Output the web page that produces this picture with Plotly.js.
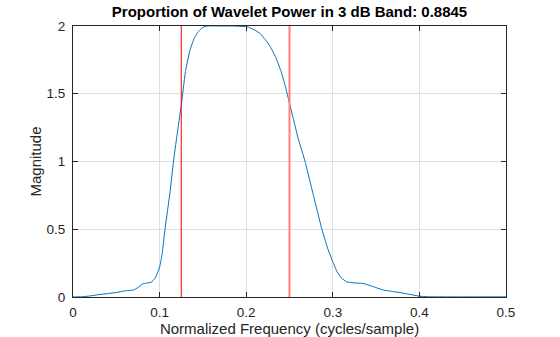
<!DOCTYPE html>
<html>
<head>
<meta charset="utf-8">
<script src="https://cdn.plot.ly/plotly-3.0.1.min.js"></script>
<style>html,body{margin:0;padding:0;background:#fff;}#chart{width:560px;height:337px;}</style>
</head>
<body>
<div id="chart"></div>
<script>
const freq = [0,0.01,0.02,0.03,0.04,0.05,0.06,0.07,0.075,0.08,0.085,0.09,0.095,0.1,0.103,0.106,0.109,0.112,0.116,0.12,0.125,0.13,0.135,0.14,0.145,0.15,0.155,0.17,0.185,0.2,0.205,0.21,0.216,0.222,0.228,0.234,0.24,0.245,0.25,0.255,0.26,0.268,0.278,0.287,0.294,0.3,0.305,0.31,0.316,0.325,0.335,0.345,0.358,0.37,0.38,0.39,0.4,0.41,0.43,0.45,0.47,0.5];
const magnitude = [0,0.002,0.008,0.018,0.025,0.033,0.045,0.052,0.07,0.095,0.103,0.108,0.14,0.22,0.32,0.49,0.63,0.77,1.0,1.19,1.414,1.67,1.82,1.91,1.96,1.99,2.0,2.0,2.0,1.995,1.985,1.97,1.945,1.9,1.845,1.77,1.67,1.56,1.43,1.3,1.17,1.0,0.74,0.51,0.36,0.26,0.185,0.14,0.112,0.104,0.1,0.08,0.052,0.04,0.03,0.018,0.006,0.002,0.001,0.001,0.001,0.001];
const lowEdge = [0.125, 0.125];
const highEdge = [0.25, 0.25];
const edgeSpan = [0, 2];
const xTicks = [0,0.1,0.2,0.3,0.4,0.5];
const xTickText = ['0','0.1','0.2','0.3','0.4','0.5'];
const yTicks = [0,0.5,1,1.5,2];
const yTickText = ['0','0.5','1','1.5','2'];
const titleText = 'Proportion of Wavelet Power in 3 dB Band: 0.8845';

const traces = [
  {x: freq, y: magnitude, mode: 'lines', line: {color: '#0072BD', width: 1, shape: 'spline', smoothing: 0.35}, hoverinfo: 'skip'},
  {x: lowEdge, y: edgeSpan, mode: 'lines', line: {color: '#ff0000', width: 1}, hoverinfo: 'skip'},
  {x: highEdge, y: edgeSpan, mode: 'lines', line: {color: '#ff7f7f', width: 2}, hoverinfo: 'skip'}
];
const axisCommon = {
  showline: true, linecolor: '#262626', linewidth: 1, mirror: 'ticks',
  ticks: 'inside', ticklen: 5, tickcolor: '#262626', tickwidth: 1,
  showgrid: true, gridcolor: '#dfdfdf', gridwidth: 1, zeroline: false,
  tickfont: {family: 'Liberation Sans, Arial, sans-serif', size: 13.5, color: '#262626'}
};
const layout = {
  width: 560, height: 337,
  margin: {l: 73, r: 54, t: 26, b: 40},
  paper_bgcolor: '#ffffff', plot_bgcolor: '#ffffff',
  showlegend: false,
  title: {text: '<b>' + titleText + '</b>', x: 0.5, xref: 'paper', xanchor: 'center', y: 1, yref: 'container', yanchor: 'top', pad: {t: 6},
          font: {family: 'Liberation Sans, Arial, sans-serif', size: 15, color: '#000000'}},
  xaxis: Object.assign({}, axisCommon, {range: [0, 0.5], tickvals: xTicks, ticktext: xTickText, ticklabelstandoff: 3,
    title: {text: 'Normalized Frequency (cycles/sample)', standoff: 2, font: {family: 'Liberation Sans, Arial, sans-serif', size: 15, color: '#262626'}}}),
  yaxis: Object.assign({}, axisCommon, {range: [0, 2], tickvals: yTicks, ticktext: yTickText, ticklabelstandoff: 4,
    title: {text: 'Magnitude', standoff: 1, font: {family: 'Liberation Sans, Arial, sans-serif', size: 15, color: '#262626'}}})
};
Plotly.newPlot('chart', traces, layout, {displayModeBar: false, staticPlot: true});
</script>
</body>
</html>
